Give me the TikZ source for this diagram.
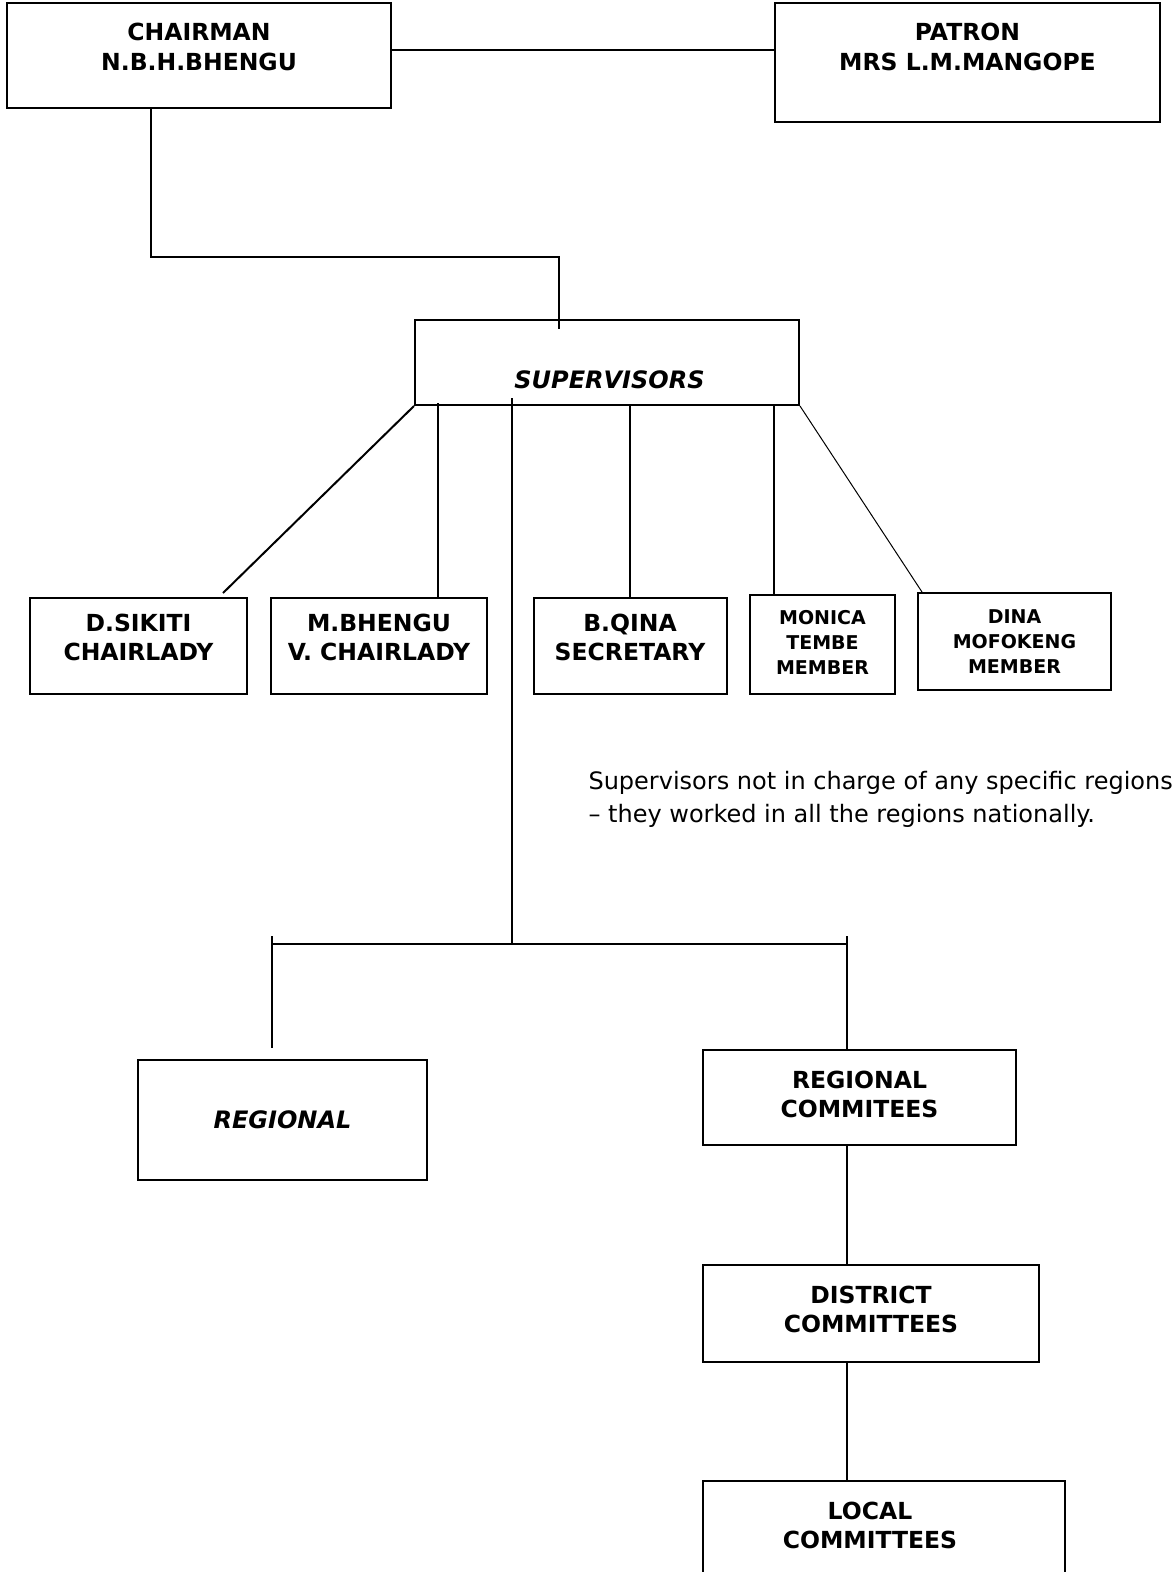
\documentclass[tikz,border=0pt]{standalone}
\usepackage{fontspec}
\setmainfont{DejaVu Sans}
\usetikzlibrary{calc}
\tikzset{
    box/.style = {draw, rectangle, line width=2pt, inner sep=0pt},
    boxtxt/.style = {align=center, font=\fontsize{23.5}{29.5}\selectfont\bfseries},
    smalltxt/.style = {align=center, font=\fontsize{19}{25}\selectfont\bfseries},
    slanttxt/.style = {font=\fontsize{24}{29}\selectfont\bfseries\itshape},
    notetxt/.style = {align=left, font=\fontsize{24}{33}\selectfont},
    link/.style = {draw, line width=2pt},
    thinlink/.style = {draw, line width=1pt}
}

\begin{document}
\begin{tikzpicture}[x=1pt,y=-1pt]
    \useasboundingbox (0,0) rectangle (1175,1572);
    % top row
    \node[box, minimum width=384, minimum height=105,
        label={[boxtxt,yshift=8.5]center:{CHAIRMAN\\N.B.H.BHENGU}}] (chair) at (199,55.5) {};
    \node[box, minimum width=385, minimum height=119,
        label={[boxtxt,yshift=15.5]center:{PATRON\\MRS L.M.MANGOPE}}] (patron) at (967.5,62.5) {};
    \node[box, minimum width=384, minimum height=85,
        label={[slanttxt,xshift=2.5,yshift=-17.5]center:SUPERVISORS}] (sup) at (607,362.5) {};
    % supervisors
    \node[box, minimum width=217, minimum height=96,
        label={[boxtxt,yshift=8.5]center:{D.SIKITI\\CHAIRLADY}}] (sikiti) at (138.5,646) {};
    \node[box, minimum width=216, minimum height=96,
        label={[boxtxt,yshift=8.5]center:{M.BHENGU\\V. CHAIRLADY}}] (mbhengu) at (379,646) {};
    \node[box, minimum width=193, minimum height=96,
        label={[boxtxt,yshift=8.5]center:{B.QINA\\SECRETARY}}] (qina) at (630,646) {};
    \node[box, minimum width=145, minimum height=99,
        label={[smalltxt,yshift=2.5]center:{MONICA\\TEMBE\\MEMBER}}] (monica) at (822.5,644.5) {};
    \node[box, minimum width=193, minimum height=97,
        label={[smalltxt]center:{DINA\\MOFOKENG\\MEMBER}}] (dina) at (1014.5,641.5) {};
    \node[notetxt, anchor=west] (note) at (585,799)
        {Supervisors not in charge of any specific regions\\– they worked in all the regions nationally.};
    % lower part
    \node[box, minimum width=289, minimum height=120,
        label={[slanttxt]center:REGIONAL}] (regional) at (282.5,1120) {};
    \node[box, minimum width=313, minimum height=95,
        label={[boxtxt,yshift=3]center:{REGIONAL\\COMMITEES}}] (regcom) at (859.5,1097.5) {};
    \node[box, minimum width=336, minimum height=97,
        label={[boxtxt,yshift=4]center:{DISTRICT\\COMMITTEES}}] (district) at (871,1313.5) {};
    \node[box, minimum width=362, minimum height=118,
        label={[boxtxt,xshift=-14,yshift=14.5]center:{LOCAL\\COMMITTEES}}] (local) at (884,1540) {};

    \coordinate (bend) at (559,257);
    \coordinate (hub) at (512,944);
    \coordinate (regtick) at (272,936);
    \coordinate (comtick) at (847,936);

    \draw[link] ([yshift=5.5]chair.east) -- ([yshift=5.5]chair.east -| patron.west);
    \draw[link] ([xshift=-48]chair.south) |- (bend) -- (bend |- sup.north) -- ++(0,10);
    \draw[link] (sup.south west) -- ([xshift=-25,yshift=4]sikiti.north east);
    \draw[link] ([xshift=24,yshift=3]sup.south west) -- ([xshift=24]sup.south west |- mbhengu.north);
    \draw[link] ([yshift=8]sup.south -| hub) -- (hub);
    \draw[link] (qina.north) -- (qina.north |- sup.south);
    \draw[link] ([xshift=25]monica.north west) -- ([xshift=25,yshift=2]monica.north west |- sup.south);
    \draw[thinlink] (sup.south east) -- ([xshift=5]dina.north west);
    \draw[link] (regtick |- hub) -- (comtick |- hub);
    \draw[link] (regtick) -- ++(0,112);
    \draw[link] (comtick) -- (comtick |- regcom.north);
    \draw[link] (comtick |- regcom.south) -- (comtick |- district.north);
    \draw[link] (comtick |- district.south) -- (comtick |- local.north);
\end{tikzpicture}
\end{document}
